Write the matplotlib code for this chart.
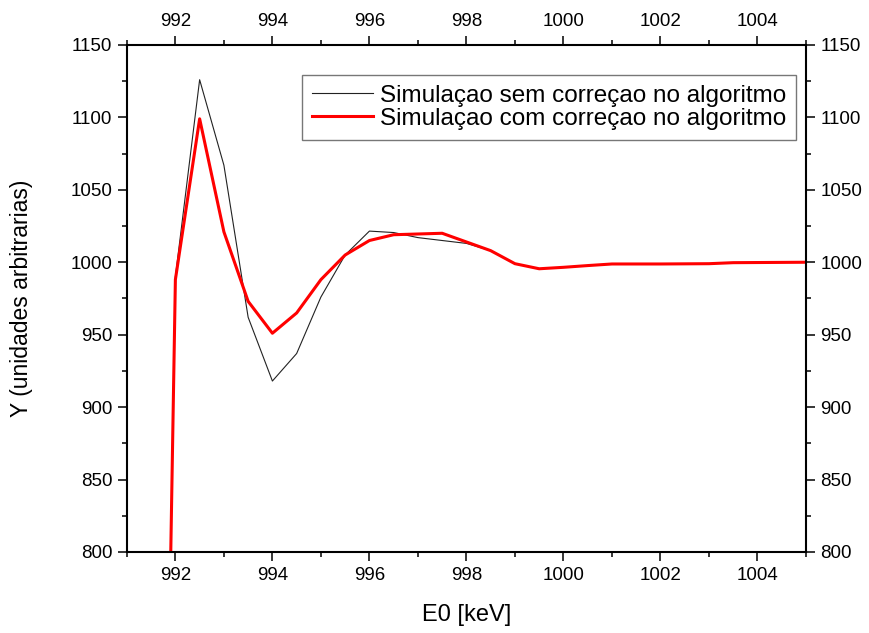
import numpy as np
import matplotlib.pyplot as plt
from matplotlib.ticker import MultipleLocator

plt.rcParams['font.family'] = ['Liberation Sans', 'DejaVu Sans']

# Dados
e0 = [991.5, 992.0, 992.5, 993.0, 993.5, 994.0, 994.5, 995.0, 995.5, 996.0,
      996.5, 997.0, 997.5, 998.0, 998.5, 999.0, 999.5, 1000.0, 1000.5, 1001.0,
      1001.5, 1002.0, 1002.5, 1003.0, 1003.5, 1004.0, 1004.5, 1005.0]

y_sem = [0, 990, 1126, 1067, 962, 918, 937, 976, 1005, 1021.5,
         1020.5, 1017, 1015, 1013, 1008, 999, 995.5, 996.5, 997.7, 998.8,
         998.8, 998.8, 998.9, 999, 999.7, 999.8, 999.9, 1000]

y_com = [0, 988, 1099, 1021, 973, 951, 965, 988, 1005, 1015,
         1019, 1019.5, 1020, 1014, 1008, 999, 995.5, 996.5, 997.7, 998.8,
         998.8, 998.8, 998.9, 999, 999.7, 999.8, 999.9, 1000]

fig = plt.figure(figsize=(8.69, 6.33), dpi=100)
ax = fig.add_axes([0.146, 0.128, 0.7815, 0.801])

ax.plot(e0, y_sem, color='#222222', lw=0.8, label='Simulaçao sem correçao no algoritmo')
ax.plot(e0, y_com, color='red', lw=2.2, label='Simulaçao com correçao no algoritmo')

ax.set_xlim(991, 1005)
ax.set_ylim(800, 1150)
ax.xaxis.set_major_locator(MultipleLocator(2))
ax.xaxis.set_minor_locator(MultipleLocator(1))
ax.yaxis.set_major_locator(MultipleLocator(50))
ax.yaxis.set_minor_locator(MultipleLocator(25))

ax.tick_params(which='both', direction='out', top=True, right=True,
               labeltop=True, labelright=True, labelsize=13.5, width=1.1, pad=4)
ax.tick_params(which='major', length=6.5)
ax.tick_params(which='minor', length=3.5)
for s in ax.spines.values():
    s.set_linewidth(1.5)

ax.set_xlabel('E0 [keV]', fontsize=17)
ax.set_ylabel('Y (unidades arbitrarias)', fontsize=16.5)
ax.xaxis.set_label_coords(0.5, -0.102)
ax.yaxis.set_label_coords(-0.138, 0.5)

leg = ax.legend(loc='upper right', bbox_to_anchor=(0.985, 0.941), borderaxespad=0,
                fontsize=17.5, fancybox=False, handlelength=2.5, handletextpad=0.3,
                labelspacing=0.05, borderpad=0.4)
leg.get_frame().set_edgecolor('#555555')
leg.get_frame().set_linewidth(1.0)

fig.savefig('out.png', dpi=100)
